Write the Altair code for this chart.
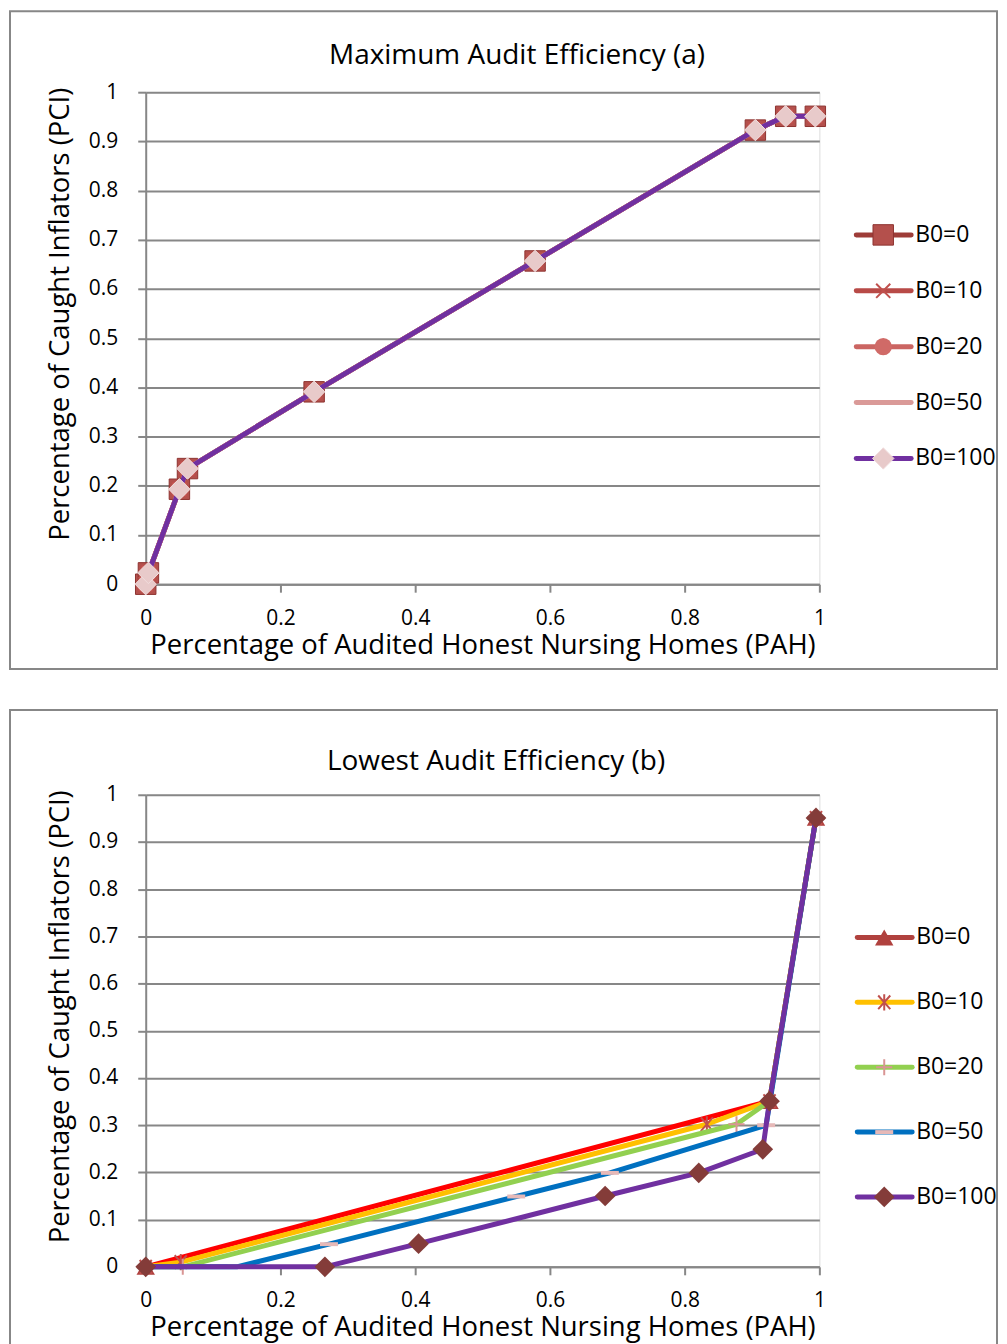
import altair as alt
import pandas as pd

FONT = "Open Sans"
GRID = "#878787"

series_names = ["B0=0", "B0=10", "B0=20", "B0=50", "B0=100"]

# ---------- Panel (a): Maximum Audit Efficiency (all series coincide) ----------
a_pah = [0.0, 0.004, 0.05, 0.062, 0.25, 0.578, 0.905, 0.95, 0.994]
a_pci = [0.0, 0.023, 0.193, 0.235, 0.391, 0.657, 0.923, 0.951, 0.951]
a_series_x = {name: a_pah for name in series_names}
a_series_y = {name: a_pci for name in series_names}

# ---------- Panel (b): Lowest Audit Efficiency ----------
b_pah_0 = [0.0, 0.926, 0.995]
b_pci_0 = [0.0, 0.351, 0.951]
b_pah_10 = [0.0, 0.052, 0.833, 0.926, 0.995]
b_pci_10 = [0.0, 0.010, 0.302, 0.351, 0.951]
b_pah_20 = [0.0, 0.055, 0.877, 0.926, 0.995]
b_pci_20 = [0.0, 0.0, 0.302, 0.351, 0.951]
b_pah_50 = [0.0, 0.135, 0.272, 0.55, 0.689, 0.921, 0.995]
b_pci_50 = [0.0, 0.0, 0.048, 0.149, 0.199, 0.300, 0.951]
b_pah_100 = [0.0, 0.266, 0.405, 0.682, 0.821, 0.916, 0.926, 0.995]
b_pci_100 = [0.0, 0.0, 0.049, 0.150, 0.199, 0.249, 0.351, 0.951]
b_series_x = dict(zip(series_names, [b_pah_0, b_pah_10, b_pah_20, b_pah_50, b_pah_100]))
b_series_y = dict(zip(series_names, [b_pci_0, b_pci_10, b_pci_20, b_pci_50, b_pci_100]))

x_ticks = [0, 0.2, 0.4, 0.6, 0.8, 1]
y_ticks = [0, 0.1, 0.2, 0.3, 0.4, 0.5, 0.6, 0.7, 0.8, 0.9, 1]

X_PATH = "M-1,-1L1,1M-1,1L1,-1"
ASTERISK = "M-0.75,-0.85L0.75,0.85M-0.75,0.85L0.75,-0.85M0,-1L0,1"
PLUS = "M-1,0L1,0M0,-1L0,1"
DASH = "M-1,-0.22L1,-0.22L1,0.22L-1,0.22Z"

# style: line colour, marker dict (or None), legend line colour
A_STYLE = {
    "B0=0": ("#9E3C38", dict(shape="square", filled=True, fill="#B4504C", stroke="#8E3330", strokeWidth=1, size=420), "#9E3C38"),
    "B0=10": ("#B84A47", dict(shape=X_PATH, filled=False, stroke="#C0504D", strokeWidth=2, size=200), "#B84A47"),
    "B0=20": ("#CB6562", dict(shape="circle", filled=True, fill="#D06A67", size=300), "#CB6562"),
    "B0=50": ("#DA9A98", None, "#DA9A98"),
    "B0=100": ("#7030A0", dict(shape="diamond", filled=True, fill="#E8CACA", stroke="#F0DCDC", strokeWidth=1, size=460), "#7030A0"),
}
B_STYLE = {
    "B0=0": ("#FF0000", dict(shape="triangle-up", filled=True, fill="#B0413E", size=340), "#B0413E"),
    "B0=10": ("#FFC000", dict(shape=ASTERISK, filled=False, stroke="#C0504D", strokeWidth=2, size=260), "#FFC000"),
    "B0=20": ("#92D050", dict(shape=PLUS, filled=False, stroke="#D99594", strokeWidth=2, size=260), "#92D050"),
    "B0=50": ("#0070C0", dict(shape=DASH, filled=True, fill="#E6B9B8", size=324), "#0070C0"),
    "B0=100": ("#7030A0", dict(shape="diamond", filled=True, fill="#843C39", size=430), "#7030A0"),
}

TITLE_SIZE = 28
AXIS_TITLE_SIZE = 27.5
LABEL_SIZE = 21
LEGEND_SIZE = 23


def make_x():
    return alt.X(
        "pah:Q",
        scale=alt.Scale(domain=[0, 1], nice=False, zero=False),
        axis=alt.Axis(
            values=x_ticks, format="~g", grid=False,
            domainColor=GRID, domainWidth=2, tickColor=GRID, tickWidth=2, tickSize=8,
            labelFontSize=LABEL_SIZE, labelColor="black", labelPadding=15, labelFont=FONT,
            labelFlush=False, labelOverlap=False,
            title="Percentage of Audited Honest Nursing Homes (PAH)",
            titleFontSize=AXIS_TITLE_SIZE, titleFontWeight="normal", titleColor="black", titleFont=FONT,
            titlePadding=3,
        ),
    )


def make_y():
    return alt.Y(
        "pci:Q",
        scale=alt.Scale(domain=[0, 1], nice=False, zero=False),
        axis=alt.Axis(
            values=y_ticks, format="~g", grid=True, gridColor=GRID, gridWidth=2,
            domainColor=GRID, domainWidth=2, tickColor=GRID, tickWidth=2, tickSize=8,
            labelFontSize=LABEL_SIZE, labelColor="black", labelPadding=20, labelFont=FONT,
            labelFlush=False, labelOverlap=False,
            title="Percentage of Caught Inflators (PCI)",
            titleFontSize=AXIS_TITLE_SIZE, titleFontWeight="normal", titleColor="black", titleFont=FONT,
            titlePadding=14, titleY=222,
        ),
    )


def build_panel(sx, sy, styles, title_text, tpos, w, h, frame, leg_rows, leg_x):
    one = pd.DataFrame({"k": [0]})
    main = [
        alt.Chart(one).mark_rect(filled=False, stroke=GRID, strokeWidth=2).encode(
            x=alt.value(frame[0]), x2=alt.value(frame[1]),
            y=alt.value(frame[2]), y2=alt.value(frame[3]),
        ),
        alt.Chart(one).mark_text(text=title_text, fontSize=TITLE_SIZE, font=FONT, color="black",
                                 align="center", baseline="middle").encode(
            x=alt.value(tpos[0]), y=alt.value(tpos[1])
        ),
    ]
    for name in series_names:
        df = pd.DataFrame({"pah": sx[name], "pci": sy[name], "i": range(len(sx[name]))})
        lc, mk, _ = styles[name]
        main.append(
            alt.Chart(df).mark_line(color=lc, strokeWidth=5, strokeJoin="round").encode(
                x=make_x(), y=make_y(), order="i:Q"
            )
        )
        if mk is not None:
            main.append(
                alt.Chart(df).mark_point(opacity=1, **mk).encode(x=make_x(), y=make_y())
            )

    leg_df = pd.DataFrame({"series": series_names, "idx": list(range(len(series_names)))})
    ly = alt.Y("idx:Q", scale=alt.Scale(domain=[0, 4], range=leg_rows, nice=False, zero=False), axis=None)
    legend = []
    for j, name in enumerate(series_names):
        _, mk, legc = styles[name]
        row = leg_df[leg_df["idx"] == j]
        legend.append(
            alt.Chart(row).mark_rule(stroke=legc, strokeWidth=5, strokeCap="round").encode(
                x=alt.value(leg_x[0]), x2=alt.value(leg_x[1]), y=ly
            )
        )
        if mk is not None:
            legend.append(
                alt.Chart(row).mark_point(opacity=1, **mk).encode(x=alt.value(leg_x[2]), y=ly)
            )
    legend.append(
        alt.Chart(leg_df).mark_text(align="left", baseline="middle", fontSize=LEGEND_SIZE, font=FONT,
                                    color="black").encode(
            x=alt.value(leg_x[3]), y=ly, text="series:N"
        )
    )
    return (
        alt.layer(alt.layer(*main), alt.layer(*legend))
        .resolve_scale(x="independent", y="independent")
        .properties(width=w, height=h)
    )


top = build_panel(
    a_series_x, a_series_y, A_STYLE, "Maximum Audit Efficiency (a)",
    (372, -36), 675, 493, (-136, 853, -81, 578),
    [143, 367], (712, 767, 739, 771),
)
bottom = build_panel(
    b_series_x, b_series_y, B_STYLE, "Lowest Audit Efficiency (b)",
    (351, -33), 675, 473, (-136, 853, -85, 560),
    [143, 403], (713, 768, 740, 772),
)

chart = (
    alt.vconcat(top, bottom, spacing=37)
    .properties(padding=0)
    .configure_view(stroke=None)
    .configure(font=FONT)
)

chart.save("out.html", embed_options={"renderer": "svg", "actions": False})
